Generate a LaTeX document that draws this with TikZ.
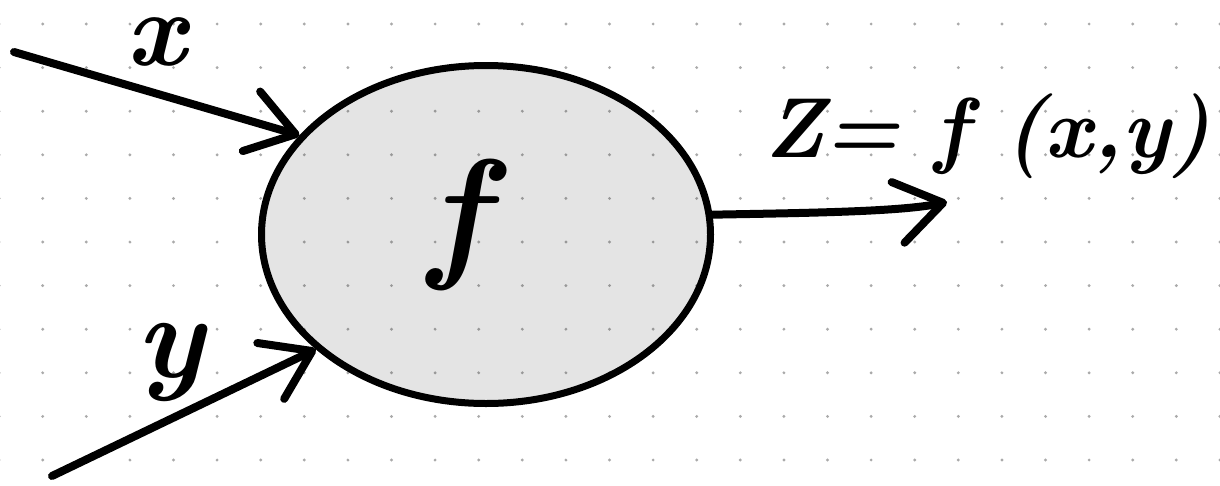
\documentclass[tikz,border=0pt]{standalone}
\usepackage{fontspec}
\usetikzlibrary{shapes.geometric,arrows.meta}
\definecolor{dotgray}{HTML}{AAAAAA}
\begin{document}
\begin{tikzpicture}[x=1pt,y=-1pt,
  pen/.style={line width=8pt, line cap=round, line join=round},
  arr/.style={pen, -{Straight Barb[length=46pt,width=62pt,round]}},
  lbl/.style={inner sep=0pt}]
\useasboundingbox (0,0) rectangle (1220,485);
\fill[white] (0,0) rectangle (1220,485);
\foreach \i in {0,...,28}{\foreach \j in {0,...,10}{\fill[dotgray] (-0.9+43.6*\i, 24+43.6*\j) circle (1.6pt);}}
\node[ellipse, draw, line width=7pt, fill=black, fill opacity=0.105, draw opacity=1,
      minimum width=449pt, minimum height=338pt, inner sep=0pt] (f) at (486,234.5) {};
\node[lbl, font=\fontsize{146}{150}\selectfont\bfseries\itshape] (fl) at (458,225) {f};
\coordinate (xs) at (14,52);
\coordinate (ys) at (52,476);
\coordinate (zt) at (947,202);
\draw[arr] (xs) -- (f.152);
\draw[arr] (ys) -- (f.214);
\draw[arr] (f.5) .. controls (800,213) and (900,212) .. (zt);
\node[lbl, font=\fontsize{106}{120}\selectfont\bfseries\itshape] (xl) at (156,42) {x};
\node[lbl, font=\fontsize{120}{130}\selectfont\bfseries\itshape] (yl) at (170,362) {y};
\node[lbl, font=\fontsize{85}{90}\selectfont\bfseries\itshape, anchor=west] (zl) at (764,136) {Z= f (x,y)};
\end{tikzpicture}
\end{document}
